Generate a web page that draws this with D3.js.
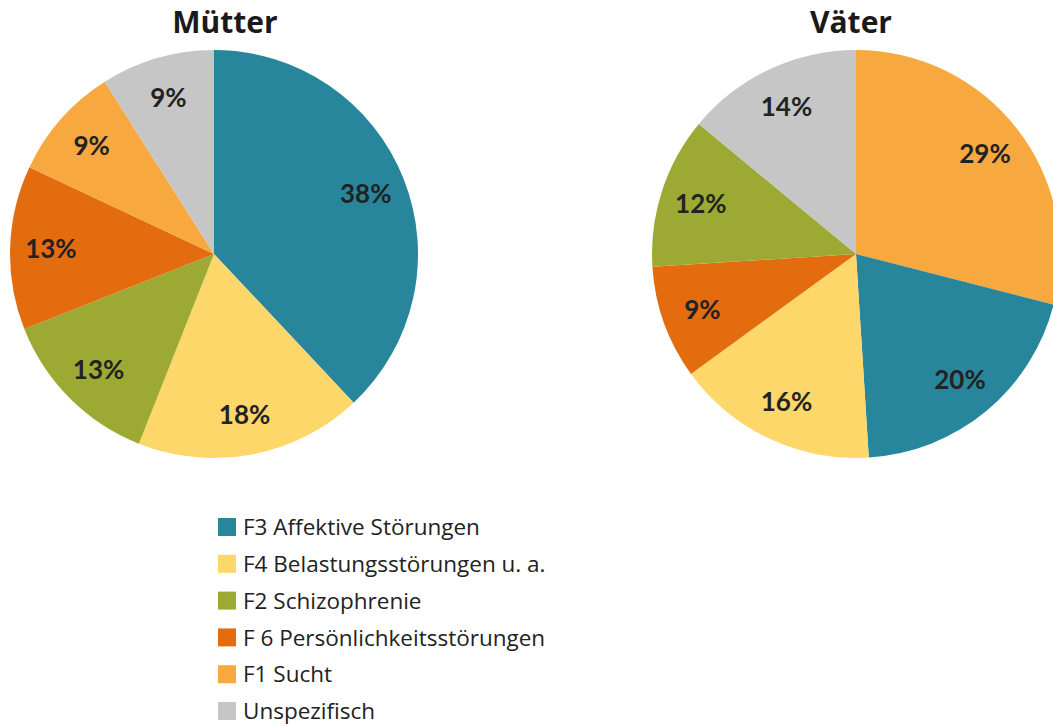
<!DOCTYPE html>
<html>
<head>
<meta charset="utf-8">
<script src="https://cdn.jsdelivr.net/npm/d3@7"></script>
<style>
  body { margin: 0; background: #fff; }
  svg { display: block; }
</style>
</head>
<body>
<script>
// categories in legend order
var categories = ["F3 Affektive Störungen", "F4 Belastungsstörungen u. a.", "F2 Schizophrenie",
                  "F 6 Persönlichkeitsstörungen", "F1 Sucht", "Unspezifisch"];
var colors = ["#27869c", "#fdd76a", "#9caa34", "#e36c0f", "#f7a940", "#c6c6c6"];

// slices in drawing order (clockwise from 12 o'clock)
var muetterCats = ["F3 Affektive Störungen", "F4 Belastungsstörungen u. a.", "F2 Schizophrenie",
                   "F 6 Persönlichkeitsstörungen", "F1 Sucht", "Unspezifisch"];
var muetterValues = [38, 18, 13, 13, 9, 9];

var vaeterCats = ["F1 Sucht", "F3 Affektive Störungen", "F4 Belastungsstörungen u. a.",
                  "F 6 Persönlichkeitsstörungen", "F2 Schizophrenie", "Unspezifisch"];
var vaeterValues = [29, 20, 16, 9, 12, 14];

var titles = ["Mütter", "Väter"];

var width = 1053, height = 726;

var svg = d3.select("body").append("svg")
    .attr("width", width)
    .attr("height", height);

var color = d3.scaleOrdinal().domain(categories).range(colors);

var radius = 204;
var pie = d3.pie().sort(null).value(function(d){ return d.value; });
var arc = d3.arc().innerRadius(0).outerRadius(radius);
var labelArc = d3.arc().innerRadius(radius * 0.8).outerRadius(radius * 0.8);

function drawPie(cx, cy, titleX, title, cats, values){
    var data = cats.map(function(c, i){ return {cat: c, value: values[i]}; });
    var g = svg.append("g").attr("transform", "translate(" + cx + "," + cy + ")");

    g.selectAll("path.slice")
        .data(pie(data))
        .enter().append("path")
        .attr("class", "slice")
        .attr("d", arc)
        .attr("fill", function(d){ return color(d.data.cat); });

    g.selectAll("text.lbl")
        .data(pie(data))
        .enter().append("text")
        .attr("class", "lbl")
        .attr("transform", function(d){ return "translate(" + labelArc.centroid(d) + ")"; })
        .attr("text-anchor", "middle")
        .attr("dy", "0.36em")
        .style("font-family", "Lato, 'Open Sans', sans-serif")
        .style("font-weight", "bold")
        .style("font-size", "26px")
        .style("fill", "#222")
        .text(function(d){ return d.data.value + "%"; });

    svg.append("text")
        .attr("x", titleX)
        .attr("y", 33)
        .attr("text-anchor", "middle")
        .style("font-family", "'Open Sans', sans-serif")
        .style("font-weight", "bold")
        .style("font-size", "30px")
        .style("fill", "#1a1a1a")
        .text(title);
}

drawPie(214, 254, 225, titles[0], muetterCats, muetterValues);
drawPie(856, 254, 851, titles[1], vaeterCats, vaeterValues);

// legend
var legendY = d3.scalePoint().domain(categories).range([527, 711]);

var legend = svg.append("g");
var rows = legend.selectAll("g.row")
    .data(categories)
    .enter().append("g")
    .attr("class", "row")
    .attr("transform", function(d){ return "translate(218," + legendY(d) + ")"; });

rows.append("rect")
    .attr("x", 0)
    .attr("y", -9)
    .attr("width", 18)
    .attr("height", 18)
    .attr("fill", function(d){ return color(d); });

rows.append("text")
    .attr("x", 25)
    .attr("dy", "0.36em")
    .style("font-family", "'Open Sans', sans-serif")
    .style("font-size", "22.5px")
    .style("fill", "#222")
    .text(function(d){ return d; });
</script>
</body>
</html>
